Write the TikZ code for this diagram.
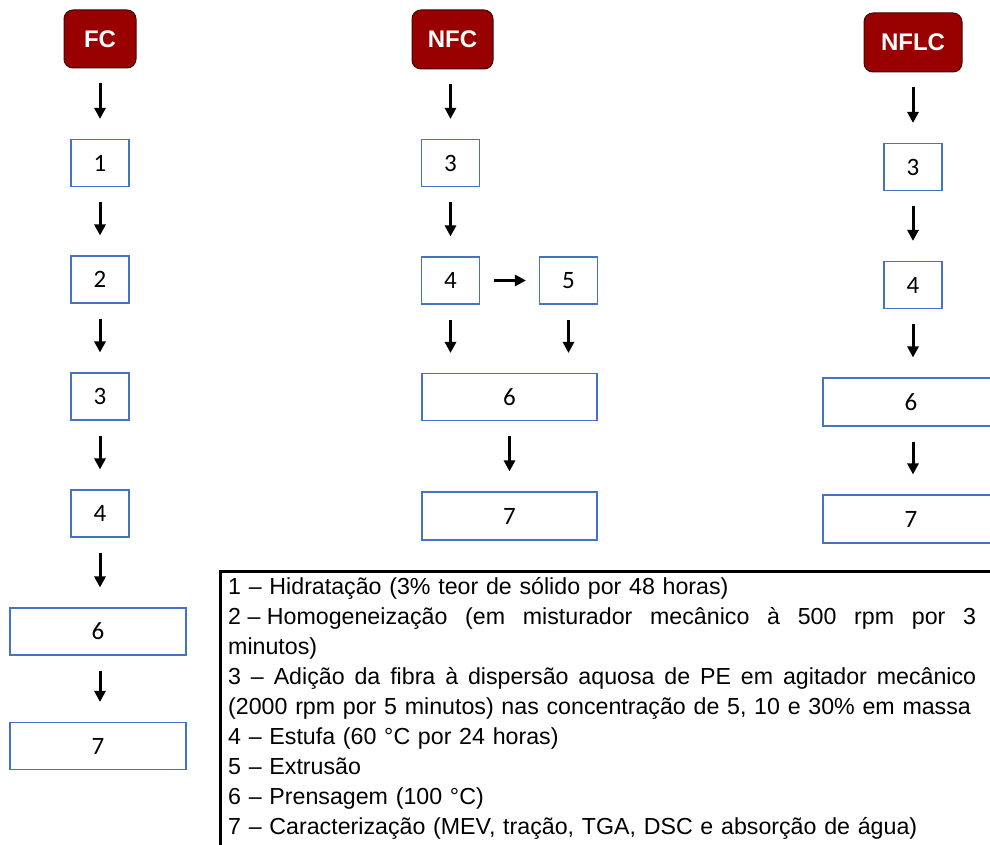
\documentclass[tikz,border=0pt]{standalone}
\usepackage{fontspec}
\setmainfont{Liberation Sans}
\newfontfamily\calib{Carlito}
\usetikzlibrary{arrows.meta}
\definecolor{boxblue}{HTML}{4472C4}
\definecolor{hdrred}{HTML}{990000}
\definecolor{hdredge}{HTML}{3A0A0A}
\newcommand{\justline}[1]{\leavevmode\hbox to 748pt{\spaceskip=0.278em plus 1fil\relax #1}}
\newcommand{\fixsp}{\hspace{0.278em}}
\begin{document}
\begin{tikzpicture}[x=1pt,y=-1pt,
  stepbox/.style={draw=boxblue, line width=1.1pt, fill=white, minimum width=58pt, minimum height=47pt, inner sep=0pt, font=\calib\fontsize{25}{25}\selectfont},
  widebox/.style={stepbox, minimum width=176pt},
  header/.style={draw=hdredge, line width=1pt, fill=hdrred, rounded corners=9pt, inner sep=0pt, text=white, font=\fontsize{24}{24}\selectfont\bfseries},
  flow/.style={-{Triangle[length=11pt,width=11pt]}, line width=3pt, shorten <=15pt, shorten >=20pt},
  sideflow/.style={flow, shorten <=14pt, shorten >=13pt},
]
\useasboundingbox (0,0) rectangle (990,845);

% FC column
\node[header, minimum width=72pt, minimum height=58pt] (fc) at (100,39) {FC};
\node[stepbox] (f1) at (100,163) {1};
\node[stepbox] (f2) at (100,279.5) {2};
\node[stepbox] (f3) at (100,396.5) {3};
\node[stepbox] (f4) at (100,513.5) {4};
\node[widebox] (f6) at (98,631.5) {6};
\node[widebox] (f7) at (98,746) {7};
\draw[flow] (fc) -- (f1);
\draw[flow] (f1) -- (f2);
\draw[flow] (f2) -- (f3);
\draw[flow] (f3) -- (f4);
\draw[flow] (f4.south) -- (f4.south |- f6.north);
\draw[flow] (f6.south -| f4.south) -- (f7.north -| f4.south);

% NFC column
\node[header, minimum width=81pt, minimum height=59pt] (nfc) at (452.5,39.5) {NFC};
\node[stepbox] (n3) at (450.5,163) {3};
\node[stepbox] (n4) at (450.5,280.5) {4};
\node[stepbox] (n5) at (568.5,280.5) {5};
\node[widebox, minimum width=175pt] (n6) at (509.5,397) {6};
\node[widebox, minimum width=175pt, minimum height=48pt] (n7) at (509.5,516) {7};
\draw[flow] (n3.north |- nfc.south) -- (n3.north);
\draw[flow] (n3) -- (n4);
\draw[sideflow] (n4) -- (n5);
\draw[flow] (n4.south) -- (n4.south |- n6.north);
\draw[flow] (n5.south) -- (n5.south |- n6.north);
\draw[flow] (n6) -- (n7);

% NFLC column
\node[header, minimum width=98pt, minimum height=59pt] (nflc) at (913,42.5) {NFLC};
\node[stepbox] (l3) at (913,167) {3};
\node[stepbox] (l4) at (913,285) {4};
\node[widebox, minimum height=48pt] (l6) at (911,402) {6};
\node[widebox, minimum height=48pt] (l7) at (911,519) {7};
\draw[flow] (nflc) -- (l3);
\draw[flow] (l3) -- (l4);
\draw[flow] (l4.south) -- (l4.south |- l6.north);
\draw[flow] (l6.south -| l4.south) -- (l7.north -| l4.south);

% Legend
\node[draw, line width=3pt, anchor=north west, minimum width=820pt, minimum height=320pt, inner sep=0pt] (legbox) at (218.5,569.5) {};
\node[anchor=base west, text width=760pt, inner sep=0pt, align=left, font=\fontsize{23.2}{30}\selectfont] (legtext) at (228,594) {%
1 – Hidratação (3\% teor de sólido por 48 horas)\\
\justline{2\fixsp–\fixsp Homogeneização (em misturador mecânico à 500 rpm por 3}\\
minutos)\\
\justline{3 – Adição da fibra à dispersão aquosa de PE em agitador mecânico}\\
(2000 rpm por 5 minutos) nas concentração de 5, 10 e 30\% em massa\\
4 – Estufa (60 °C por 24 horas)\\
5 – Extrusão\\
6 – Prensagem (100 °C)\\
7 – Caracterização (MEV, tração, TGA, DSC e absorção de água)};
\end{tikzpicture}
\end{document}
